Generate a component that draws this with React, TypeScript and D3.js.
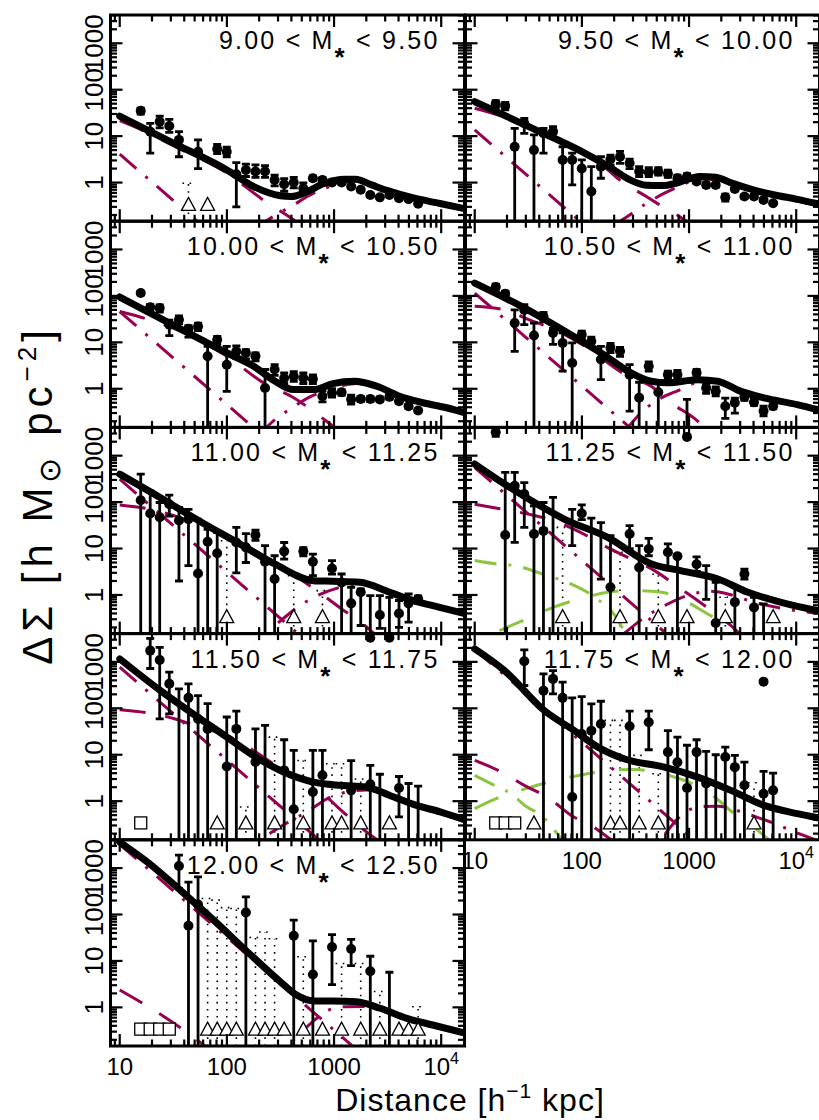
import React from "react";
import * as d3 from "d3";

type Pt = [number, number | null, number | null, number | null];
type Curve = [number, number][];

const FONT = "'Liberation Sans', Arial, Helvetica, sans-serif";
const MAGENTA = "#9a0052";
const GREEN = "#8cc63f";

const RADII = [15.7, 19.25, 23.6, 29.0, 35.7, 43.8, 53.8, 66.1, 81.2, 99.7, 122.5, 150.4, 184.8, 227, 278.8, 342.4, 420.6, 516.7, 634.6, 779.5, 957, 1176, 1444, 1774, 2179, 2676, 3287, 4038, 4960, 6092, 7482];
const LIMIT_LEVEL = 0.34;
const X_DOMAIN: [number, number] = [8.2, 16500];
const Y_DOMAIN: [number, number] = [0.1472, 4064];
const X_MAJOR = [10, 100, 1000, 10000];
const Y_MAJOR = [1, 10, 100, 1000];

// ---------- Panel 1 : 9.00 - 9.50
const p1Bin = ["9.00", "9.50"];
const p1Points: Pt[] = [[0, 35, 30, 40], [1, 12.5, 4.3, 18.9], [2, 20.5, 15, 27], [3, 16.5, 12, 23], [4, 8.3, 3.6, 12.5], [6, 4.6, 2.0, 8.3], [8, 5.3, 4.2, 6.6], [9, 4.6, 3.6, 5.8], [10, 1.51, 0.3, 2.7], [11, 1.87, 1.35, 2.5], [12, 1.73, 1.3, 2.4], [13, 1.73, 1.3, 2.3], [14, 1.14, 0.85, 1.45], [15, 0.92, 0.65, 1.22], [16, 1.0, 0.77, 1.3], [17, 0.755, 0.6, 0.98], [18, 1.24, 1.1, 1.4], [19, 1.14, 1.02, 1.28], [20, 1.0, 0.92, 1.09], [21, 1.0, 0.93, 1.07], [22, 0.82, 0.76, 0.88], [23, 0.7, 0.65, 0.75], [24, 0.54, 0.5, 0.58], [25, 0.48, 0.45, 0.52], [26, 0.54, 0.5, 0.58], [27, 0.46, 0.43, 0.5], [28, 0.44, 0.41, 0.47], [29, 0.35, 0.33, 0.37]];
const p1Limits = [5, 7];
const p1Squares: number[] = [];
const p1Dotted: [number, number][] = [[5, 0.97]];
const p1Total: Curve = [[10, 27], [31.6, 7.1], [100, 1.87], [178, 0.82], [316, 0.52], [398, 0.5], [562, 0.64], [794, 0.94], [1259, 1.18], [1585, 1.18], [2239, 0.89], [3162, 0.67], [5623, 0.46], [10000, 0.35], [17000, 0.27]];
const p1Stellar: Curve = [[10, 4.1], [200, 0.01025]];
const p1OneHalo: Curve = [[10, 21.5], [17.4, 12.5], [31.6, 6.2], [100, 1.6], [219, 0.42], [372, 0.19], [520, 0.11]];
const p1TwoHalo: Curve = [[180, 0.1], [275, 0.19], [420, 0.33], [562, 0.5], [1000, 0.88], [1585, 1.1], [2500, 0.86], [5000, 0.5], [10000, 0.34], [17000, 0.26]];

// ---------- Panel 2 : 9.50 - 10.00
const p2Bin = ["9.50", "10.00"];
const p2Points: Pt[] = [[0, 49, 41, 58], [1, 44.6, 37, 53], [2, 5.9, null, 14.7], [3, 18.9, 11.5, 24], [4, 5.0, null, 10.6], [5, 11.5, 4.3, 14.7], [6, 12.5, 9, 16], [7, 3.07, null, 5.9], [8, 3.07, 0.89, 4.3], [9, 2.0, null, 3.07], [10, 0.64, null, 2.2], [11, 2.2, 1.24, 3.6], [12, 3.18, 2.4, 3.9], [13, 3.6, 2.6, 4.7], [14, 2.6, 2.0, 3.2], [15, 1.73, 1.35, 2.2], [16, 1.67, 1.35, 2.1], [17, 1.73, 1.45, 2.1], [18, 1.54, 1.3, 1.85], [19, 1.24, 1.05, 1.45], [20, 1.35, 1.15, 1.55], [21, 1.05, 0.95, 1.15], [22, 0.89, 0.8, 1.0], [23, 0.89, 0.8, 0.98], [24, 0.48, 0.4, 0.56], [25, 0.73, 0.66, 0.8], [26, 0.5, 0.46, 0.54], [27, 0.5, 0.46, 0.54], [28, 0.42, 0.39, 0.45], [29, 0.36, 0.34, 0.38]];
const p2Limits: number[] = [];
const p2Squares: number[] = [];
const p2Dotted: [number, number][] = [];
const p2Total: Curve = [[10, 55.2], [31.6, 16.2], [100, 4.65], [178, 2.21], [282, 1.14], [398, 0.877], [562, 0.86], [794, 1.0], [1259, 1.35], [1778, 1.3], [2512, 0.97], [3981, 0.695], [6310, 0.54], [10000, 0.44], [15850, 0.35]];
const p2Stellar: Curve = [[10, 13.6], [200, 0.034]];
const p2OneHalo: Curve = [[10, 40], [19, 26], [50, 10.5], [100, 4.3], [160, 2.2], [235, 1.05], [400, 0.5], [630, 0.26], [800, 0.19], [1100, 0.11]];
const p2TwoHalo: Curve = [[200, 0.12], [270, 0.19], [380, 0.33], [590, 0.59], [800, 0.82], [1300, 1.2], [2000, 1.15], [3000, 0.88], [6000, 0.52], [16000, 0.33]];

// ---------- Panel 3 : 10.00 - 10.50
const p3Bin = ["10.00", "10.50"];
const p3Points: Pt[] = [[0, 115, 105, 125], [1, 57, 48, 66], [2, 55, 45, 64], [3, 24, 14, 30], [4, 30.7, 25, 37], [5, 19.7, 13, 23], [6, 22, 18, 26], [7, 5.0, null, 8.2], [8, 11.4, 9.1, 13.5], [9, 3.3, 0.88, 8.2], [10, 6.4, 4.5, 8.4], [11, 5.9, 4.4, 7.0], [12, 5.0, 4.0, 5.9], [13, 1.04, null, 2.6], [14, 2.6, 1.95, 3.3], [15, 1.71, 1.3, 2.2], [16, 1.86, 1.45, 2.35], [17, 1.71, 1.3, 2.2], [18, 1.63, 1.3, 2.0], [19, 0.69, 0.52, 0.9], [20, 0.81, 0.66, 1.0], [21, 0.84, 0.72, 0.95], [22, 0.59, 0.47, 0.73], [23, 0.6, 0.53, 0.68], [24, 0.6, 0.53, 0.68], [25, 0.59, 0.53, 0.66], [26, 0.67, 0.6, 0.74], [27, 0.54, 0.49, 0.6], [28, 0.42, 0.38, 0.46], [29, 0.34, 0.31, 0.37]];
const p3Limits: number[] = [];
const p3Squares: number[] = [];
const p3Dotted: [number, number][] = [];
const p3Total: Curve = [[10, 94.6], [31.6, 23.4], [100, 5.9], [178, 3.05], [282, 1.45], [417, 0.96], [646, 0.96], [977, 1.29], [1549, 1.45], [2512, 1.13], [4074, 0.69], [6761, 0.5], [11220, 0.39], [17000, 0.3]];
const p3Stellar: Curve = [[10, 46], [300, 0.051]];
const p3OneHalo: Curve = [[10, 46], [18.6, 31], [32, 20], [100, 5.0], [220, 1.34], [420, 0.64], [850, 0.2], [1200, 0.11]];
const p3TwoHalo: Curve = [[200, 0.1], [263, 0.19], [400, 0.38], [630, 0.71], [850, 0.89], [1260, 1.2], [1600, 1.3], [2500, 1.05], [4000, 0.66], [6800, 0.48], [11000, 0.37], [17000, 0.29]];

// ---------- Panel 4 : 10.50 - 11.00
const p4Bin = ["10.50", "11.00"];
const p4Points: Pt[] = [[0, 155, 130, 180], [1, 111, 95, 126], [2, 26, 6.4, 50], [3, 50, 24, 65], [4, 14, null, 26], [5, 36, 28, 44], [6, 16, 9, 20], [7, 9.7, 2.4, 16], [8, 3.6, null, 9.7], [9, 14.6, 11.5, 17.5], [10, 10.5, 8.2, 13], [11, 4.25, 1.57, 8.2], [12, 7.6, 6.0, 9.5], [13, 6.4, 5.0, 7.8], [14, 2.0, 0.33, 3.3], [15, 0.64, null, 1.38], [16, 3.05, 2.4, 3.8], [17, 0.84, null, 1.34], [18, 2.0, 1.6, 2.4], [19, 2.0, 1.6, 2.5], [20, 0.092, null, 0.59], [21, 2.2, 1.8, 2.6], [22, 1.04, 0.8, 1.3], [23, 0.88, 0.7, 1.1], [24, 0.42, 0.23, 0.63], [25, 0.5, 0.3, 0.63], [26, 0.67, 0.56, 0.8], [27, 0.51, 0.44, 0.6], [28, 0.33, 0.26, 0.42], [29, 0.42, 0.37, 0.47]];
const p4Limits: number[] = [];
const p4Squares: number[] = [];
const p4Dotted: [number, number][] = [];
const p4Total: Curve = [[10, 189], [29.2, 54.7], [100, 10.5], [151, 5.9], [288, 2.19], [443, 1.45], [631, 1.34], [1202, 1.57], [1849, 1.45], [3048, 0.88], [5012, 0.635], [10230, 0.457], [15850, 0.356]];
const p4Stellar: Curve = [[10, 115], [500, 0.046]];
const p4OneHalo: Curve = [[10, 60], [19, 50], [32, 31], [56, 18.6], [100, 9], [270, 1.86], [447, 1.12], [676, 0.5], [1122, 0.23], [1600, 0.11]];
const p4TwoHalo: Curve = [[250, 0.12], [380, 0.35], [600, 0.7], [780, 0.9], [1200, 1.35], [1800, 1.38], [3000, 0.85], [5000, 0.6], [10000, 0.43], [17000, 0.33]];

// ---------- Panel 5 : 11.00 - 11.25
const p5Bin = ["11.00", "11.25"];
const p5Points: Pt[] = [[0, 110, null, 400], [1, 57, null, 175], [2, 47, null, 98], [3, 90, 50, 141], [4, 40, 2.0, 77], [5, 43, 4.3, 70], [6, 2.9, null, 43], [7, 14, null, 26], [8, 7.9, null, 22], [10, 13.5, 3.0, 28.5], [11, 10.6, 5.0, 21], [12, 19.5, 15, 25], [13, 5.2, null, 11.5], [14, 2.2, null, 7.0], [15, 8.7, 5.9, 13.5], [17, 8.7, 7.0, 10.5], [18, 5.2, 2.6, 7.6], [20, 3.7, 2.8, 5.5], [21, 1.86, null, 2.83], [22, 0.66, null, 1.46], [23, 1.14, 0.22, 1.35], [24, 0.12, null, 0.97], [25, 0.37, 0.19, 0.97], [26, 0.12, null, 0.89], [27, 0.4, 0.2, 0.76], [28, 0.66, 0.26, 1.05], [29, 0.82, 0.68, 0.95]];
const p5Limits = [9, 16, 19];
const p5Squares: number[] = [];
const p5Dotted: [number, number][] = [[9, 14.7], [16, 2.6], [19, 1.24]];
const p5Total: Curve = [[10, 400], [19.7, 162], [54.7, 39.8], [124, 13.6], [279, 4.65], [643, 2.03], [966, 1.97], [1738, 1.87], [3311, 1.14], [5495, 0.755], [9683, 0.543], [17140, 0.389]];
const p5Stellar: Curve = [[10, 312], [600, 0.0867]];
const p5OneHalo: Curve = [[10, 87], [18.8, 71], [32, 51], [56, 32], [100, 19], [300, 4.5], [725, 1.14], [1175, 0.5], [1860, 0.24], [2340, 0.15]];
const p5TwoHalo: Curve = [[300, 0.25], [480, 0.59], [1120, 1.45], [1800, 1.75], [3300, 1.08], [5500, 0.72], [10000, 0.52], [17000, 0.37]];

// ---------- Panel 6 : 11.25 - 11.50
const p6Bin = ["11.25", "11.50"];
const p6Points: Pt[] = [[0, 3200, 2600, 3700], [1, 19.5, null, 435], [2, 224, 13.6, 435], [3, 149, 28.5, 264], [4, 20.5, null, 83], [5, 24, null, 98], [6, null, null, 126], [8, null, 11.5, 70], [9, 57, 42, 87], [10, null, null, 45], [11, null, 2.2, 36], [12, 1.46, null, 19], [14, 20.5, 10, 31], [15, 3.9, null, 11.5], [16, 9.8, 7.0, 16.6], [18, 8.3, 3.6, 12.6], [19, 6.8, null, 7.6], [21, 4.6, 3.2, 6.6], [22, null, 0.8, 4.3], [23, 0.25, null, 1.87], [25, 0.7, null, 1.46], [26, 2.83, 2.2, 3.6], [27, 0.54, null, 0.89], [28, 0.0136, null, 0.64]];
const p6Limits = [7, 13, 17, 20, 24, 29];
const p6Squares: number[] = [];
const p6Dotted: [number, number][] = [[7, 28.5], [13, 8.3], [17, 2.8], [24, 0.89]];
const p6Total: Curve = [[10, 661], [19, 245], [33.9, 107], [69, 42.7], [174, 17.4], [447, 4.65], [851, 3.31], [1862, 2.21], [3548, 1.14], [7244, 0.695], [15850, 0.46]];
const p6Stellar: Curve = [[10, 556], [600, 0.154]];
const p6OneHalo: Curve = [[10, 90], [16.6, 73], [31.6, 55], [53.7, 40], [98, 22], [162, 11.5], [290, 5.9], [480, 3.3], [800, 1.46], [1200, 0.76], [1860, 0.36], [2450, 0.22], [3000, 0.14]];
const p6TwoHalo: Curve = [[250, 0.15], [400, 0.35], [600, 0.6], [1000, 1.0], [1600, 1.2], [2500, 1.0], [4000, 0.7], [8000, 0.5], [16000, 0.4]];
const p6SatA: Curve = [[10, 5.5], [16.5, 4.6], [23.6, 4.3], [43.4, 2.8], [76.7, 1.78], [135, 0.86], [209, 0.33], [250, 0.16]];
const p6SatB: Curve = [[17, 0.17], [30, 0.3], [54, 0.54], [95, 0.82], [174, 1.14], [288, 1.24], [550, 1.14], [933, 0.72], [1585, 0.36], [2455, 0.2], [3500, 0.12]];

// ---------- Panel 7 : 11.50 - 11.75
const p7Bin = ["11.50", "11.75"];
const p7Points: Pt[] = [[1, 1750, 720, 3200], [2, 1100, 59, 2050], [3, 337, 76, 600], [4, null, null, 263], [5, 168, null, 337], [6, 59, null, 187], [7, 36, null, 126], [9, 5.6, null, 65], [10, 36, null, 87], [12, 7.0, null, 36], [13, null, null, 43], [15, 4.6, null, 21], [16, 0.67, null, 12.4], [18, 1.57, null, 12.4], [19, 3.6, null, 12.4], [22, 1.71, null, 7.5], [24, 2.3, null, 5.9], [25, null, null, 3.8], [27, 1.92, 0.46, 3.4], [28, null, null, 2.4], [29, null, null, 2.1]];
const p7Limits = [8, 11, 14, 17, 20, 21, 23, 26];
const p7Squares = [0];
const p7Dotted: [number, number][] = [[11, 0.75], [14, 24], [17, 7.5], [20, 6.4], [21, 6.4], [23, 3]];
const p7Total: Curve = [[10, 1160], [24, 240], [45.7, 83], [100, 24], [186, 8.9], [316, 4.57], [646, 2.57], [1148, 2.19], [1995, 2.02], [3311, 1.33], [5888, 0.81], [9772, 0.59], [17000, 0.39]];
const p7Stellar: Curve = [[10, 767], [800, 0.12]];
const p7OneHalo: Curve = [[10, 93], [18.6, 79], [33, 59], [56, 39], [100, 26], [166, 13.5], [300, 5.5], [676, 2.0], [1120, 0.69], [1860, 0.25], [2500, 0.15]];
const p7TwoHalo: Curve = [[250, 0.2], [355, 0.33], [560, 0.59], [930, 1.23], [1150, 1.45], [2000, 1.75], [3300, 1.25], [6000, 0.76], [17000, 0.37]];

// ---------- Panel 8 : 11.75 - 12.00
const p8Bin = ["11.75", "12.00"];
const p8Points: Pt[] = [[3, 1030, 310, 1810], [5, 240, null, 550], [6, 430, 205, 650], [7, 168, null, 365], [8, 1.23, null, 168], [9, 28, null, 178], [10, 33, null, 125], [11, 46, null, 142], [14, 41, null, 87], [16, 50, 12.8, 87], [18, 11.4, null, 33], [19, 6.9, null, 24], [20, 1.92, null, 16], [21, 11.4, null, 21], [22, 2.4, null, 11.8], [23, null, null, 10], [24, 8.9, null, 14.6], [25, 5.4, null, 9.7], [26, 2.2, null, 6.9], [28, 1.45, null, 4.4], [29, 1.71, null, 4.0]];
const p8Limits = [4, 12, 13, 15, 17, 27];
const p8Squares = [0, 1, 2];
const p8Dotted: [number, number][] = [[12, 55], [13, 55], [15, 9.7], [17, 3.9], [27, 2.5]];
const p8Total: Curve = [[10, 1900], [19, 645], [44.7, 89], [85, 33], [141, 14.6], [251, 8.1], [589, 5.4], [1202, 3.3], [2455, 1.71], [5012, 0.81], [10230, 0.54], [15850, 0.44]];
const p8Stellar: Curve = [[10, 1860], [1000, 0.186]];
const p8OneHalo: Curve = [[10, 7.55], [17.8, 4.24], [29, 2.19], [50, 1.13], [79, 0.5], [131, 0.27], [200, 0.13]];
const p8TwoHalo: Curve = [[600, 0.2], [850, 0.5], [1250, 0.76], [1860, 0.78], [2800, 0.63], [4200, 0.46], [6300, 0.33], [10000, 0.21], [16000, 0.14]];
const p8SatA: Curve = [[10, 3.6], [16.5, 2.0], [21.9, 1.45], [29.2, 0.81], [43.4, 0.46], [56, 0.23], [70, 0.12]];
const p8SatB: Curve = [[10, 0.69], [15.8, 1.13], [30, 1.86], [56, 2.8], [95, 3.6], [174, 4.6], [309, 4.8], [562, 3.9], [977, 2.6], [1660, 1.33], [2630, 0.54], [4070, 0.27], [5500, 0.15]];

// ---------- Panel 9 : 12.00 - 12.50
const p9Bin = ["12.00", "12.50"];
const p9Points: Pt[] = [[4, 1110, 363, 1900], [5, 57, null, 500], [6, 164, null, 645], [11, 110, null, 240], [16, 35, null, 76], [18, 5.1, null, 27], [20, 20, 3.1, 37], [22, 18, 7.9, 29], [24, 6.0, null, 12.6], [26, null, null, 5.7]];
const p9Limits = [7, 8, 9, 10, 12, 13, 14, 15, 17, 19, 21, 23, 25, 27, 28, 29];
const p9Squares = [0, 1, 2, 3];
const p9Dotted: [number, number][] = [[7, 221], [8, 204], [9, 141], [10, 135], [12, 32], [13, 42], [14, 30], [17, 12.3], [21, 8.8], [23, 8.8], [25, 2.2], [29, 1.03]];
const p9Total: Curve = [[10, 3630], [18.1, 1350], [36.9, 331], [75.3, 75.5], [155, 15.8], [316, 3.55], [447, 1.84], [646, 1.37], [977, 1.37], [1622, 1.32], [2692, 0.955], [4786, 0.58], [8318, 0.417], [17000, 0.275]];
const p9Stellar: Curve = [[10, 3240], [1500, 0.144]];
const p9OneHalo: Curve = [[10, 2.36], [17.4, 1.12], [28, 0.56], [46, 0.25], [70, 0.12]];
const p9TwoHalo: Curve = [[500, 0.3], [645, 0.51], [850, 0.83], [1230, 1.03], [2000, 1.05], [3000, 0.85], [6000, 0.48], [17000, 0.26]];

interface PanelSpec {
  bin: string[];
  points: Pt[];
  limits: number[];
  squares: number[];
  dotted: [number, number][];
  total: Curve;
  stellar: Curve;
  oneHalo: Curve;
  twoHalo: Curve;
  satA?: Curve;
  satB?: Curve;
}

const PANELS: PanelSpec[] = [
  { bin: p1Bin, points: p1Points, limits: p1Limits, squares: p1Squares, dotted: p1Dotted, total: p1Total, stellar: p1Stellar, oneHalo: p1OneHalo, twoHalo: p1TwoHalo },
  { bin: p2Bin, points: p2Points, limits: p2Limits, squares: p2Squares, dotted: p2Dotted, total: p2Total, stellar: p2Stellar, oneHalo: p2OneHalo, twoHalo: p2TwoHalo },
  { bin: p3Bin, points: p3Points, limits: p3Limits, squares: p3Squares, dotted: p3Dotted, total: p3Total, stellar: p3Stellar, oneHalo: p3OneHalo, twoHalo: p3TwoHalo },
  { bin: p4Bin, points: p4Points, limits: p4Limits, squares: p4Squares, dotted: p4Dotted, total: p4Total, stellar: p4Stellar, oneHalo: p4OneHalo, twoHalo: p4TwoHalo },
  { bin: p5Bin, points: p5Points, limits: p5Limits, squares: p5Squares, dotted: p5Dotted, total: p5Total, stellar: p5Stellar, oneHalo: p5OneHalo, twoHalo: p5TwoHalo },
  { bin: p6Bin, points: p6Points, limits: p6Limits, squares: p6Squares, dotted: p6Dotted, total: p6Total, stellar: p6Stellar, oneHalo: p6OneHalo, twoHalo: p6TwoHalo, satA: p6SatA, satB: p6SatB },
  { bin: p7Bin, points: p7Points, limits: p7Limits, squares: p7Squares, dotted: p7Dotted, total: p7Total, stellar: p7Stellar, oneHalo: p7OneHalo, twoHalo: p7TwoHalo },
  { bin: p8Bin, points: p8Points, limits: p8Limits, squares: p8Squares, dotted: p8Dotted, total: p8Total, stellar: p8Stellar, oneHalo: p8OneHalo, twoHalo: p8TwoHalo, satA: p8SatA, satB: p8SatB },
  { bin: p9Bin, points: p9Points, limits: p9Limits, squares: p9Squares, dotted: p9Dotted, total: p9Total, stellar: p9Stellar, oneHalo: p9OneHalo, twoHalo: p9TwoHalo },
];

// layout
const COL_X = [110.5, 465.5];
const PW = 354;
const ROW_Y0 = 15;
const PH = 206.2;

function minorTicks(domain: [number, number]) {
  const out: number[] = [];
  for (let e = -2; e <= 5; e++) {
    for (let m = 2; m <= 9; m++) {
      const v = m * Math.pow(10, e);
      if (v > domain[0] && v < domain[1]) out.push(v);
    }
  }
  return out;
}

function Panel({ spec, idx }: { spec: PanelSpec; idx: number }) {
  const row = Math.floor(idx / 2);
  const col = idx % 2;
  const x0 = COL_X[col];
  const x1 = x0 + PW;
  const y0 = ROW_Y0 + row * PH;
  const y1 = y0 + PH;
  const xs = d3.scaleLog().domain(X_DOMAIN).range([x0, x1]);
  const ys = d3.scaleLog().domain(Y_DOMAIN).range([y1, y0]);
  const line = d3
    .line<[number, number]>()
    .x((d) => xs(d[0]))
    .y((d) => ys(d[1]))
    .curve(d3.curveMonotoneX);
  const clipId = `clip${idx}`;
  const showYLabels = col === 0;
  const showXLabels = idx === 8 || idx === 7;
  const xMinor = minorTicks(X_DOMAIN);
  const yMinor = minorTicks(Y_DOMAIN);
  const ly = ys(LIMIT_LEVEL);

  return (
    <g>
      <defs>
        <clipPath id={clipId}>
          <rect x={x0} y={y0} width={PW} height={PH} />
        </clipPath>
      </defs>
      <g clipPath={`url(#${clipId})`}>
        {spec.dotted.map(([k, top], i) => {
          const x = xs(RADII[k]);
          const yt = ys(top);
          return (
            <g key={"d" + i} stroke="#000" strokeWidth={1.6} strokeDasharray="1.6 5.5" fill="none">
              <line x1={x} x2={x} y1={y1} y2={yt} />
              <line x1={x - 6} x2={x + 6} y1={yt} y2={yt} />
            </g>
          );
        })}
        {spec.satB && (
          <path d={line(spec.satB) || ""} fill="none" stroke={GREEN} strokeWidth={3} strokeDasharray="26 24" />
        )}
        {spec.satA && (
          <path d={line(spec.satA) || ""} fill="none" stroke={GREEN} strokeWidth={3} strokeDasharray="22 12 3 12" />
        )}
        <path d={line(spec.stellar) || ""} fill="none" stroke={MAGENTA} strokeWidth={3} strokeDasharray="22 12 3 12" />
        <path d={line(spec.oneHalo) || ""} fill="none" stroke={MAGENTA} strokeWidth={3} strokeDasharray="26 20" />
        <path d={line(spec.twoHalo) || ""} fill="none" stroke={MAGENTA} strokeWidth={3} strokeDasharray="22 12 3 12" />
        <path d={line(spec.total) || ""} fill="none" stroke="#000" strokeWidth={7} strokeLinecap="round" />
        {spec.points.map(([k, v, lo, hi], i) => {
          if (hi == null) return null;
          const x = xs(RADII[k]);
          const yt = ys(hi);
          const yb = lo == null ? y1 + 4 : ys(lo);
          return (
            <g key={"e" + i} stroke="#000" strokeWidth={2.8}>
              <line x1={x} x2={x} y1={yt} y2={yb} />
              <line x1={x - 4} x2={x + 4} y1={yt} y2={yt} />
              {lo != null && <line x1={x - 4} x2={x + 4} y1={yb} y2={yb} />}
            </g>
          );
        })}
        {spec.limits.map((k, i) => {
          const x = xs(RADII[k]);
          return (
            <path
              key={"t" + i}
              d={`M${x - 7},${ly + 6}L${x + 7},${ly + 6}L${x},${ly - 7}Z`}
              fill="#fff"
              stroke="#000"
              strokeWidth={1.3}
            />
          );
        })}
        {spec.squares.map((k, i) => {
          const x = xs(RADII[k]);
          return <rect key={"s" + i} x={x - 6} y={ly - 6} width={12} height={12} fill="#fff" stroke="#000" strokeWidth={1.3} />;
        })}
      </g>
      {spec.points.map(([k, v], i) =>
        v == null ? null : <circle key={"c" + i} cx={xs(RADII[k])} cy={ys(v)} r={5} fill="#000" />
      )}
      {/* frame */}
      <rect x={x0} y={y0} width={PW} height={PH} fill="none" stroke="#000" strokeWidth={3} />
      {/* ticks */}
      <g stroke="#000" strokeWidth={2.2}>
        {X_MAJOR.map((v) => (
          <g key={"xm" + v}>
            <line x1={xs(v)} x2={xs(v)} y1={y1} y2={y1 - 12} />
            <line x1={xs(v)} x2={xs(v)} y1={y0} y2={y0 + 12} />
          </g>
        ))}
        {xMinor.map((v) => (
          <g key={"xn" + v}>
            <line x1={xs(v)} x2={xs(v)} y1={y1} y2={y1 - 6.5} />
            <line x1={xs(v)} x2={xs(v)} y1={y0} y2={y0 + 6.5} />
          </g>
        ))}
        {Y_MAJOR.map((v) => (
          <g key={"ym" + v}>
            <line x1={x0} x2={x0 + 12} y1={ys(v)} y2={ys(v)} />
            <line x1={x1} x2={x1 - 12} y1={ys(v)} y2={ys(v)} />
          </g>
        ))}
        {yMinor.map((v) => (
          <g key={"yn" + v}>
            <line x1={x0} x2={x0 + 6.5} y1={ys(v)} y2={ys(v)} />
            <line x1={x1} x2={x1 - 6.5} y1={ys(v)} y2={ys(v)} />
          </g>
        ))}
      </g>
      {showYLabels &&
        Y_MAJOR.map((v) => (
          <text
            key={"yl" + v}
            transform={`translate(${x0 - 8},${ys(v)}) rotate(-90)`}
            textAnchor="middle"
            fontSize={26}
            fontFamily={FONT}
          >
            {String(v)}
          </text>
        ))}
      {showXLabels &&
        X_MAJOR.map((v) => (
          <text key={"xl" + v} x={xs(v)} y={y1 + 29} textAnchor="middle" fontSize={24} fontFamily={FONT}>
            {v === 10000 ? (
              <>
                10<tspan dy={-11} fontSize={16}>4</tspan>
              </>
            ) : (
              String(v)
            )}
          </text>
        ))}
      <text x={x1 - 25} y={y0 + 34} textAnchor="end" fontSize={25} fontFamily={FONT} letterSpacing={2.2}>
        {spec.bin[0]} &lt; M
        <tspan dy={17} fontSize={26} fontWeight="bold">*</tspan>
        <tspan dy={-17}> &lt; {spec.bin[1]}</tspan>
      </text>
    </g>
  );
}

export default function App() {
  return (
    <svg width={819} height={1120} viewBox="0 0 819 1120" style={{ display: "block", position: "absolute", left: 0, top: 0, background: "#fff" }}>
      <rect x={0} y={0} width={819} height={1120} fill="#fff" />
      {PANELS.map((p, i) => (
        <Panel key={i} spec={p} idx={i} />
      ))}
      <text x={470} y={1111} textAnchor="middle" fontSize={32} fontFamily={FONT} letterSpacing={1}>
        Distance [h<tspan dy={-13} fontSize={21}>−1</tspan>
        <tspan dy={13}> kpc]</tspan>
      </text>
      <text transform="translate(52,495) rotate(-90)" textAnchor="middle" fontSize={42} fontFamily={FONT} letterSpacing={5}>
        ΔΣ [h M<tspan dy={8} fontSize={30}>⊙</tspan>
        <tspan dy={-8}> pc</tspan>
        <tspan dy={-16} fontSize={26}>−2</tspan>
        <tspan dy={16}>]</tspan>
      </text>
    </svg>
  );
}
